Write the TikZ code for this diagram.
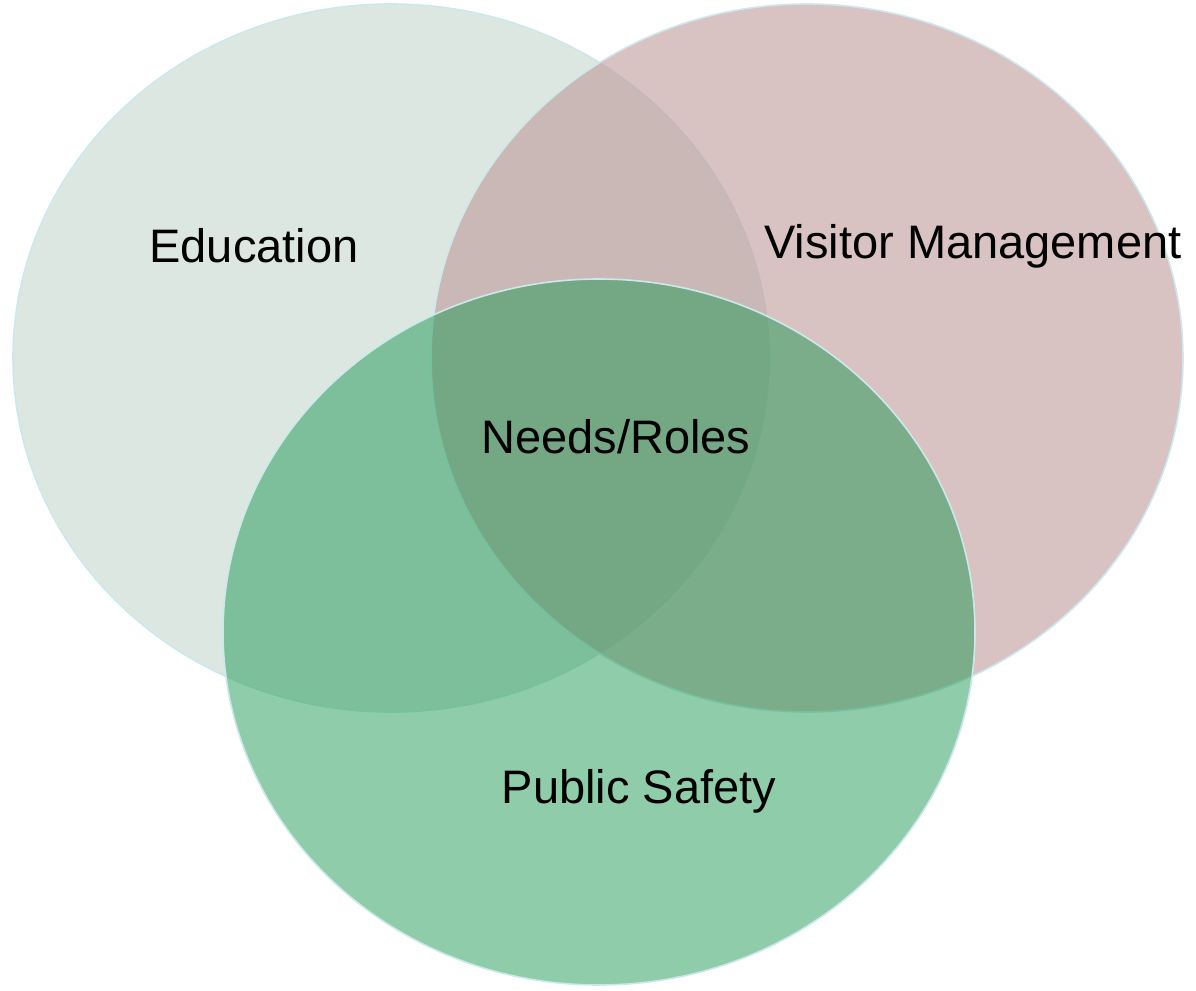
\documentclass[tikz,border=0pt]{standalone}
\usepackage{fontspec}
\setmainfont{Liberation Sans}
\definecolor{educol}{RGB}{221,231,226}
\definecolor{viscol}{RGB}{190,153,153}
\definecolor{safecol}{RGB}{31,153,83}
\definecolor{rimcol}{RGB}{205,232,236}
\tikzset{
	blob/.style={draw=rimcol,line width=1.6pt},
	lbl/.style={anchor=base,inner sep=0pt,font=\fontsize{47}{56}\selectfont}
}
\begin{document}
\begin{tikzpicture}[x=1pt,y=-1pt]
	\useasboundingbox (0,0) rectangle (1196,990);
	% the three sets
	\draw [blob,fill=educol] (391,358) ellipse [x radius=378,y radius=354];
	\draw [blob,fill=viscol,fill opacity=0.6] (807,358) ellipse [x radius=376,y radius=354];
	\draw [blob,fill=safecol,fill opacity=0.5] (599,632) ellipse [x radius=376,y radius=353];

	\node [lbl] (edu) at (254,262) {Education};
	\node [lbl] (vis) at (973,258) {Visitor Management};
	\node [lbl] (needs) at (616,453) {Needs/Roles};
	\node [lbl] (safety) at (639,803) {Public Safety};
\end{tikzpicture}
\end{document}
